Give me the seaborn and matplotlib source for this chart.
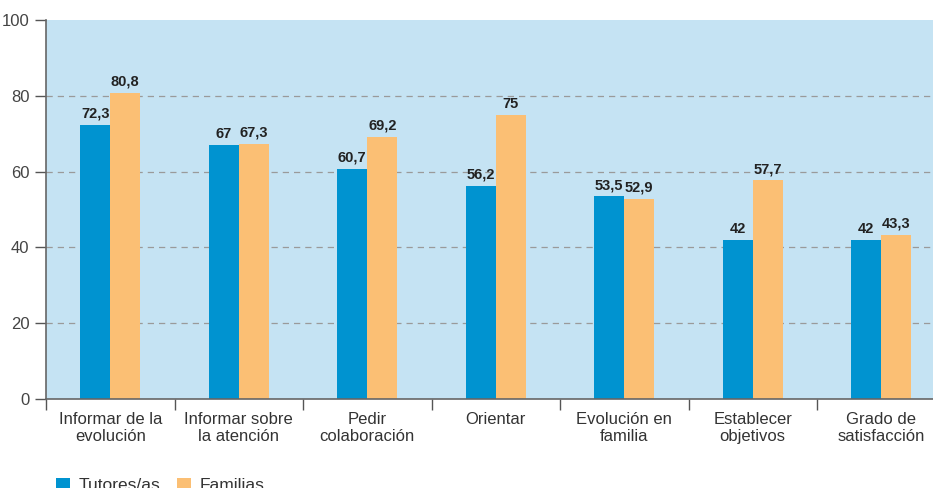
import matplotlib
matplotlib.use("Agg")
import matplotlib.pyplot as plt
import seaborn as sns
import pandas as pd
from matplotlib.patches import Patch
from matplotlib.ticker import FixedLocator, NullFormatter

categories = ["Informar de la\nevolución", "Informar sobre\nla atención", "Pedir\ncolaboración",
              "Orientar", "Evolución en\nfamilia", "Establecer\nobjetivos", "Grado de\nsatisfacción"]
tutores = [72.3, 67, 60.7, 56.2, 53.5, 42, 42]
familias = [80.8, 67.3, 69.2, 75, 52.9, 57.7, 43.3]
series = ["Tutores/as", "Familias"]
yticks = [0, 20, 40, 60, 80, 100]

colors = ["#0093D0", "#FBBF74"]

df = pd.DataFrame({
    "cat": categories * 2,
    "serie": [series[0]] * len(categories) + [series[1]] * len(categories),
    "val": tutores + familias,
})

sns.set_style("white")
plt.rcParams["font.family"] = ["Liberation Sans", "DejaVu Sans"]

fig = plt.figure(figsize=(9.33, 4.88), dpi=100)
ax = fig.add_axes([46 / 933, 1 - 399 / 488, 887 / 933, 379 / 488])
ax.set_facecolor("#C5E3F3")

sns.barplot(data=df, x="cat", y="val", hue="serie", palette=colors, width=0.467,
            ax=ax, legend=False, saturation=1, edgecolor="none", linewidth=0)

ax.set_xlim(-0.5, -0.5 + 887 / 128.5)
ax.set_ylim(0, 100)
ax.set_yticks(yticks)
ax.set_yticklabels([str(v) for v in yticks])
for v in yticks[1:-1]:
    ax.axhline(v, color="#9a9a9a", linestyle=(0, (5, 4)), linewidth=0.9, zorder=0.5)

# category boundary ticks
ax.xaxis.set_major_locator(FixedLocator([i - 0.5 for i in range(len(categories) + 1)]))
ax.xaxis.set_major_formatter(NullFormatter())
ax.xaxis.set_minor_locator(FixedLocator(list(range(len(categories)))))
ax.set_xticklabels(categories, minor=True)
ax.tick_params(axis="x", which="major", length=8, width=1, color="#555555", direction="out", bottom=True)
ax.tick_params(axis="x", which="minor", length=0, pad=9, labelsize=12, labelcolor="#333333")
ax.tick_params(axis="y", length=8, width=1, color="#555555", direction="out", labelsize=12,
               labelcolor="#444444", pad=4, left=True)
for lab in ax.get_xticklabels(minor=True):
    lab.set_linespacing(1.2)

for s in ["top", "right"]:
    ax.spines[s].set_visible(False)
for s in ["left", "bottom"]:
    ax.spines[s].set_color("#666666")
    ax.spines[s].set_linewidth(1.2)

ax.set_xlabel("")
ax.set_ylabel("")

for cont in ax.containers:
    labels = [f"{v:g}".replace(".", ",") for v in cont.datavalues]
    ax.bar_label(cont, labels=labels, padding=3, fontsize=10.5, fontweight="bold", color="#222222")

handles = [Patch(facecolor=c, edgecolor="none") for c in colors]
fig.legend(handles, series, loc="upper left", bbox_to_anchor=(40 / 933, 1 - 462 / 488), ncol=2,
           frameon=False, fontsize=12.5, handlelength=0.8, handleheight=0.8, columnspacing=1.0,
           handletextpad=0.5, labelcolor="#333333")

fig.savefig("out.png", dpi=100)
